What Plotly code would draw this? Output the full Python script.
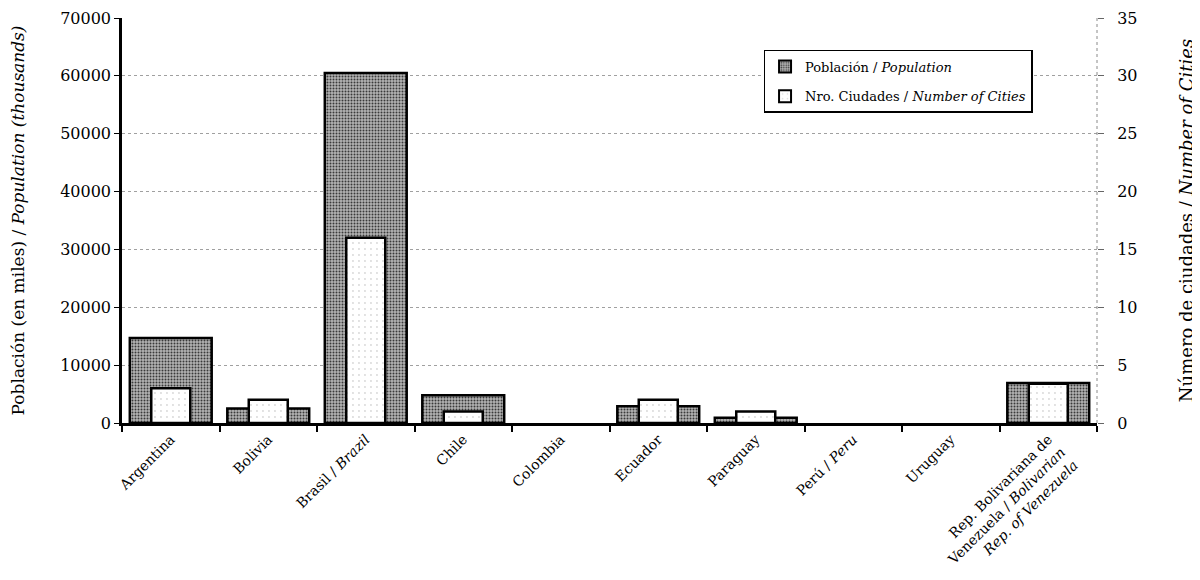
import plotly.graph_objects as go

countries = [
    "Argentina",
    "Bolivia",
    "Brasil / <i>Brazil</i>",
    "Chile",
    "Colombia",
    "Ecuador",
    "Paraguay",
    "Perú / <i>Peru</i>",
    "Uruguay",
    "Rep. Bolivariana de<br>Venezuela / <i>Bolivarian</i><br><i>Rep. of Venezuela</i>",
]
population = [14700, 2500, 60500, 4800, 0, 2900, 900, 0, 0, 6900]
num_cities = [3, 2, 16, 1, 0, 2, 1, 0, 0, 3.4]

pop_ticks = [0, 10000, 20000, 30000, 40000, 50000, 60000, 70000]
city_ticks = [0, 5, 10, 15, 20, 25, 30, 35]

FONT = "DejaVu Serif"

pop_line = [2.5 if v > 0 else 0 for v in population]
city_line = [2.5 if v > 0 else 0 for v in num_cities]

fig = go.Figure()
fig.add_trace(go.Bar(
    x=countries, y=population, name="Población / <i>Population</i>",
    width=0.84, legendgroup="pop",
    marker=dict(
        color="#9a9a9a",
        line=dict(color="black", width=pop_line),
        pattern=dict(shape=".", fgcolor="#3a3a3a", bgcolor="#b4b4b4",
                     size=3, solidity=0.35, fillmode="replace"),
    ),
    yaxis="y",
))
fig.add_trace(go.Bar(
    x=countries, y=num_cities, name="Nro. Ciudades / <i>Number of Cities</i>",
    width=0.4, legendgroup="cities",
    marker=dict(
        color="white",
        line=dict(color="black", width=city_line),
        pattern=dict(shape=".", fgcolor="#d8d8d8", bgcolor="white",
                     size=6, solidity=0.08, fillmode="replace"),
    ),
    yaxis="y2",
))

fig.update_layout(
    width=1200, height=580,
    paper_bgcolor="white", plot_bgcolor="white",
    margin=dict(l=114, r=111, t=10, b=165),
    barmode="overlay",
    font=dict(family=FONT, size=15, color="black"),
    showlegend=True,
    legend=dict(
        x=0.658, y=0.921, xanchor="left", yanchor="top",
        bgcolor="white", bordercolor="black", borderwidth=1.5,
        font=dict(family=FONT, size=13),
        tracegroupgap=10, itemsizing="constant",
    ),
    xaxis=dict(
        type="category", automargin=False,
        tickangle=-45,
        ticks="outside", ticklen=6, tickson="boundaries",
        tickcolor="black", tickwidth=1.5,
        showline=True, linecolor="black", linewidth=2.5,
        showgrid=False,
        tickfont=dict(family=FONT, size=14),
    ),
    yaxis=dict(
        range=[0, 70000], tickvals=pop_ticks, tickformat="d",
        automargin=False,
        ticks="outside", ticklen=5, tickcolor="black",
        showline=True, linecolor="black", linewidth=2.5,
        showgrid=True, gridcolor="#a0a0a0", griddash="dot", gridwidth=1,
        zeroline=False,
        title=dict(text="Población (en miles) / <i>Population (thousands)</i>",
                   font=dict(family=FONT, size=17), standoff=33),
        tickfont=dict(family=FONT, size=16),
    ),
    yaxis2=dict(
        range=[0, 35], tickvals=city_ticks,
        automargin=False,
        overlaying="y", side="right",
        ticks="outside", ticklen=6, tickcolor="#666",
        ticklabelstandoff=10,
        showline=False, showgrid=False, zeroline=False,
        title=dict(text="Número de ciudades / <i>Number of Cities</i>",
                   font=dict(family=FONT, size=18), standoff=43),
        tickfont=dict(family=FONT, size=16),
    ),
    shapes=[dict(type="line", xref="paper", yref="paper", x0=1, x1=1, y0=0, y1=1,
                 line=dict(color="#8a8a8a", width=1, dash="dot"))],
)

fig.write_html("out.html")
